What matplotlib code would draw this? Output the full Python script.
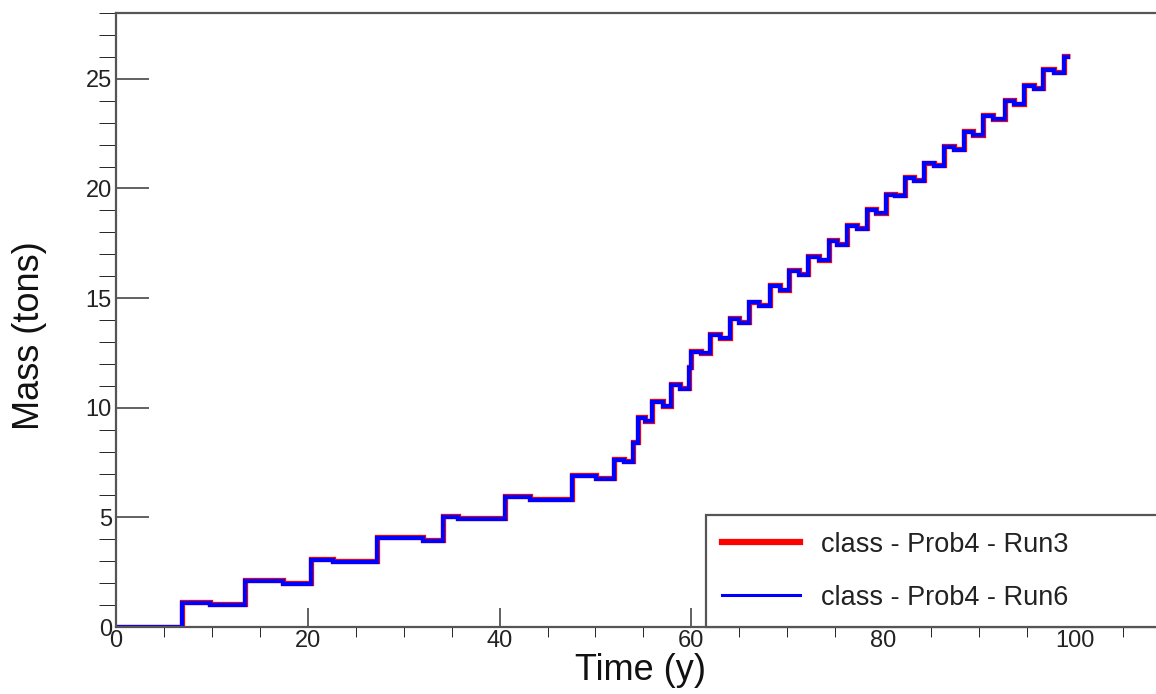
import numpy as np
import matplotlib
matplotlib.use("Agg")
import matplotlib.pyplot as plt
from matplotlib.ticker import MultipleLocator

plt.rcParams['font.family'] = ['Liberation Sans', 'DejaVu Sans']

# bin edges (years)
edges = [0, 6.85, 9.8, 13.45, 17.4, 20.3, 22.6, 27.25, 32.0, 34.1, 35.7, 40.6, 43.2,
         47.6, 50.1, 51.9, 53.0, 53.9, 54.4, 55.2, 55.9, 57.0, 57.9, 58.8, 59.7, 60.0,
         61.0, 61.9, 63.0, 64.0, 65.0, 66.0, 67.0, 68.2, 69.2, 70.2, 71.2, 72.2, 73.3,
         74.3, 75.2, 76.2, 77.3, 78.3, 79.2, 80.3, 81.2, 82.3, 83.2, 84.3, 85.3, 86.3,
         87.4, 88.4, 89.4, 90.4, 91.5, 92.7, 93.6, 94.7, 95.7, 96.7, 97.8, 98.9, 99.5]

# mass (tons) - Run6 (blue)
run6 = [0, 1.1, 1.0, 2.1, 1.98, 3.07, 2.96, 4.08, 3.94, 5.03, 4.93, 5.95, 5.8,
        6.9, 6.76, 7.63, 7.52, 8.38, 9.55, 9.38, 10.27, 10.07, 11.03, 10.85, 11.8,
        12.55, 12.48, 13.32, 13.17, 14.05, 13.88, 14.8, 14.65, 15.54, 15.35, 16.25,
        16.06, 16.87, 16.72, 17.59, 17.44, 18.3, 18.15, 19.02, 18.86, 19.72, 19.65,
        20.49, 20.34, 21.14, 21.02, 21.9, 21.76, 22.58, 22.43, 23.3, 23.16, 24.0,
        23.84, 24.68, 24.53, 25.42, 25.27, 26.0]

# mass (tons) - Run3 (red), almost the same, a hair higher
run3 = [0.02, 1.14, 1.03, 2.14, 2.01, 3.11, 2.99, 4.12, 3.97, 5.07, 4.96, 5.99, 5.84,
        6.94, 6.79, 7.67, 7.55, 8.42, 9.59, 9.41, 10.31, 10.1, 11.07, 10.88, 11.84,
        12.59, 12.51, 13.36, 13.2, 14.09, 13.91, 14.84, 14.68, 15.58, 15.38, 16.29,
        16.09, 16.91, 16.75, 17.63, 17.47, 18.34, 18.18, 19.06, 18.89, 19.76, 19.68,
        20.53, 20.37, 21.18, 21.05, 21.94, 21.79, 22.62, 22.46, 23.34, 23.19, 24.04,
        23.87, 24.72, 24.56, 25.46, 25.3, 26.06]

labels = ["class - Prob4 - Run3", "class - Prob4 - Run6"]

fig = plt.figure(figsize=(11.56, 6.94), dpi=100)
ax = fig.add_axes([0.1003, 0.0965, 0.9126, 0.8847])

ax.stairs(run3, edges, baseline=None, color="red", linewidth=3.8, label=labels[0])
ax.stairs(run6, edges, baseline=None, color="blue", linewidth=3.0, label=labels[1])

ax.set_xlim(0, 110)
ax.set_ylim(0, 28)

ax.xaxis.set_major_locator(MultipleLocator(20))
ax.xaxis.set_minor_locator(MultipleLocator(5))
ax.yaxis.set_major_locator(MultipleLocator(5))
ax.yaxis.set_minor_locator(MultipleLocator(1))

grey = "#555555"
for s in ax.spines.values():
    s.set_color(grey)
    s.set_linewidth(1.6)
ax.spines['right'].set_visible(False)

ax.tick_params(axis='both', direction='in', colors=grey, labelcolor="#222222",
               labelsize=17, width=1.3)
ax.tick_params(axis='y', which='major', length=24, pad=3)
ax.tick_params(axis='y', which='minor', length=12)
ax.tick_params(axis='x', which='major', length=14, pad=2)
ax.tick_params(axis='x', which='minor', length=7)

ax.set_xlabel("Time (y)", fontsize=26, color="#111111", va="center")
ax.set_ylabel("Mass (tons)", fontsize=26, color="#111111", va="center")
ax.xaxis.set_label_coords(0.497, -0.071)
ax.yaxis.set_label_coords(-0.0815, 0.475)

leg = ax.legend(loc="lower left", bbox_to_anchor=(0.559, 0.0, 0.5, 0.188),
                mode="expand", fontsize=19.5, frameon=True, fancybox=False,
                framealpha=1, edgecolor=grey, handlelength=2.9,
                handletextpad=0.75, labelspacing=1.0, borderaxespad=0,
                borderpad=0.6)
leg.get_frame().set_linewidth(1.6)
leg.get_lines()[0].set_linewidth(4.5)
leg.get_lines()[1].set_linewidth(2.2)
for t in leg.get_texts():
    t.set_color("#222222")

plt.savefig("out.png", dpi=100)
